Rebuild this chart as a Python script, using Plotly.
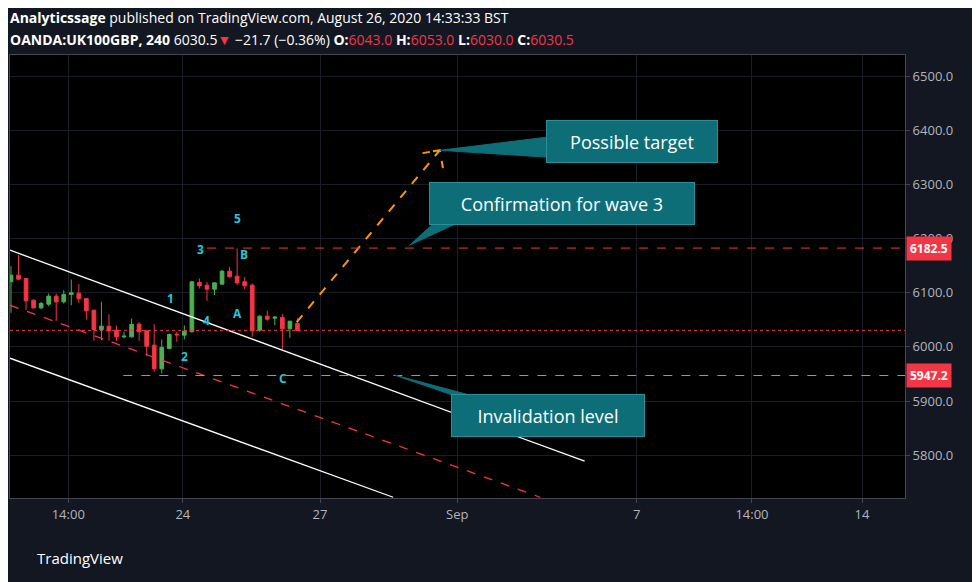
import plotly.graph_objects as go

# 4h bars, index positions on the x axis
opens = [6120.2, 6132.5, 6126.3, 6086.3, 6072.1, 6078.9, 6093.7, 6083.2, 6096.8, 6099.2,
         6089.4, 6067.8, 6032.1, 6038.3, 6030.9, 6018.6, 6018.6, 6042.0, 6029.7, 6003.2,
         5959.5, 5997.0, 6023.5, 6021.7, 6027.8, 6118.9, 6114.0, 6106.6, 6115.9, 6139.9,
         6130.6, 6120.2, 6114.0, 6030.9, 6056.7, 6053.1, 6054.3, 6033.4, 6043.0]
highs = [6149.1, 6169.4, 6126.3, 6087.5, 6083.2, 6098.6, 6098.6, 6104.8, 6124.5, 6115.9,
         6089.4, 6067.8, 6083.2, 6060.4, 6039.5, 6027.8, 6052.4, 6045.7, 6029.7, 6042.0,
         6013.7, 6024.7, 6027.8, 6039.5, 6122.0, 6126.3, 6120.2, 6118.3, 6141.7, 6147.9,
         6181.7, 6129.4, 6117.1, 6058.6, 6066.6, 6056.7, 6060.4, 6047.5, 6053.0]
lows = [6062.9, 6123.2, 6067.8, 6070.9, 6069.1, 6075.2, 6048.1, 6080.1, 6077.1, 6081.4,
        6050.6, 6011.2, 6012.4, 6011.2, 6011.2, 6015.5, 6017.3, 6011.2, 5982.9, 5953.9,
        5950.8, 5995.8, 6009.3, 6013.7, 6027.2, 6107.9, 6085.1, 6095.5, 6115.9, 6128.2,
        6114.0, 6106.0, 6018.6, 6027.8, 6048.1, 6040.1, 5995.2, 6016.7, 6030.0]
closes = [6132.5, 6125.1, 6085.1, 6072.1, 6080.1, 6093.7, 6083.2, 6096.8, 6099.8, 6088.8,
          6066.6, 6032.1, 6038.3, 6029.7, 6018.6, 6019.8, 6041.4, 6027.8, 6001.3, 5959.5,
          5998.9, 6022.9, 6022.3, 6029.0, 6120.2, 6112.8, 6106.6, 6118.3, 6139.9, 6129.4,
          6118.3, 6112.8, 6029.7, 6056.7, 6051.2, 6054.9, 6033.4, 6047.5, 6030.5]
bars = list(range(len(opens)))

tick_pos = [7.6, 22.8, 41.0, 59.2, 83.0, 98.3, 112.9]
tick_text = ["14:00", "24", "27", "Sep", "7", "14:00", "14"]
price_ticks = [5800, 5900, 6000, 6100, 6200, 6300, 6400, 6500]

upper_ch = ([-0.13, 76.1], [6178.6, 5788.9])
lower_ch = ([-0.13, 50.7], [5979.1, 5722.4])
mid_ch = ([-0.13, 70.2], [6077.0, 5722.4])
path_x = [37.9, 56.9, 54.6, 56.9, 57.3]
path_y = [6045.6, 6363.3, 6357.8, 6363.3, 6330.0]
confirm_level = 6182.5
invalid_level = 5947.2
last_price = 6030.5

waves = [("1", 21.1, 6090), ("2", 23.0, 5983), ("3", 25.1, 6180), ("4", 26.0, 6048),
         ("5", 30.0, 6238), ("A", 30.0, 6062), ("B", 30.9, 6170), ("C", 36.1, 5942)]

# callouts: text, centre x, centre y, box width px
callouts = [("Possible target", 82.4, 6380, 172), ("Confirmation for wave 3", 73.1, 6265, 266),
            ("Invalidation level", 71.2, 5874, 194)]

XR = [-0.13, 118.6]
YR = [5721, 6539]
BG = "#131722"
RED = "#f23645"
GREEN = "#4caf50"
TEAL = "#0e6e78"

fig = go.Figure()
fig.add_trace(go.Candlestick(
    x=bars, open=opens, high=highs, low=lows, close=closes,
    increasing=dict(line=dict(color=GREEN, width=1), fillcolor=GREEN),
    decreasing=dict(line=dict(color=RED, width=1), fillcolor=RED),
    whiskerwidth=0, showlegend=False, hoverinfo="skip"))

for (xs, ys), dash, col in [(upper_ch, "solid", "white"), (lower_ch, "solid", "white"),
                            (mid_ch, "dash", RED)]:
    fig.add_trace(go.Scatter(x=xs, y=ys, mode="lines", showlegend=False,
                             line=dict(color=col, width=1.3, dash=dash), hoverinfo="skip"))

fig.add_trace(go.Scatter(x=path_x, y=path_y, mode="lines", showlegend=False,
                         line=dict(color="#ff9800", width=2, dash="dash"), hoverinfo="skip"))

shapes = [
    dict(type="line", x0=26.0, x1=XR[1], y0=confirm_level, y1=confirm_level,
         line=dict(color=RED, width=1, dash="dash")),
    dict(type="line", x0=14.9, x1=XR[1], y0=invalid_level, y1=invalid_level,
         line=dict(color="#9598a1", width=1, dash="dash")),
    dict(type="line", x0=XR[0], x1=XR[1], y0=last_price, y1=last_price,
         line=dict(color=RED, width=1, dash="dot")),
    # callout pointers
    dict(type="path", path="M 56.9 6363 L 71.5 6388 L 71.5 6350 Z",
         fillcolor=TEAL, line=dict(color=TEAL, width=1)),
    dict(type="path", path="M 52.9 6188 L 57.0 6240 L 61.0 6240 Z",
         fillcolor=TEAL, line=dict(color=TEAL, width=1)),
    dict(type="path", path="M 50.9 5948 L 59.8 5905 L 62.5 5905 Z",
         fillcolor=TEAL, line=dict(color=TEAL, width=1)),
]

ann = []
for t, x, y in waves:
    ann.append(dict(x=x, y=y, text=f"<b>{t}</b>", showarrow=False, xref="x", yref="y",
                    font=dict(family="Open Sans", size=12, color="#26c6da")))
for t, x, y, w in callouts:
    ann.append(dict(x=x, y=y, text=t, showarrow=False, xref="x", yref="y",
                    width=w - 4, height=39, align="center", valign="middle",
                    bgcolor=TEAL, bordercolor="#2a8f98", borderwidth=1, borderpad=1,
                    font=dict(family="Open Sans", size=18, color="white")))
for lvl in [confirm_level, invalid_level]:
    ann.append(dict(x=1.0, y=lvl, xref="paper", yref="y", xanchor="left", showarrow=False,
                    text=f"<b>{lvl:.1f}</b>", bgcolor=RED, borderpad=3, xshift=1,
                    font=dict(family="Open Sans", size=12, color="white")))
hdr = dict(xref="paper", yref="paper", xanchor="left", yanchor="middle", showarrow=False,
           font=dict(family="Open Sans", size=14, color="white"))
ann.append(dict(hdr, x=-0.002, y=1.085,
                text="<b>Analyticssage</b> published on TradingView.com, August 26, 2020 14:33:33 BST"))
ann.append(dict(hdr, x=-0.002, y=1.036,
                text=("<b>OANDA:UK100GBP, 240</b> 6030.5<span style='color:#f23645'>▼</span>"
                      " −21.7 (−0.36%) <b>O:</b><span style='color:#f23645'>6043.0</span>"
                      " <b>H:</b><span style='color:#f23645'>6053.0</span>"
                      " <b>L:</b><span style='color:#f23645'>6030.0</span>"
                      " <b>C:</b><span style='color:#f23645'>6030.5</span>")))
ann.append(dict(hdr, x=0.028, y=-0.136, text="TradingView",
                font=dict(family="Open Sans", size=15, color="white")))

# page body adds an 8px offset, so the figure is sized to fit the window
fig.update_layout(
    width=972, height=574, paper_bgcolor=BG, plot_bgcolor="black",
    margin=dict(l=2, r=75, t=47, b=84, autoexpand=False),
    shapes=shapes, annotations=ann,
    xaxis=dict(range=XR, tickvals=tick_pos, ticktext=tick_text, rangeslider=dict(visible=False),
               showgrid=True, gridcolor="#1a1d26", zeroline=False, showline=True, automargin=False,
               linecolor="#434651", mirror=True, ticks="outside", ticklen=4, tickcolor="#434651",
               tickfont=dict(family="Open Sans", size=13, color="#b2b5be")),
    yaxis=dict(range=YR, side="right", tickvals=price_ticks, automargin=False,
               ticktext=[f"{v:.1f}" for v in price_ticks], showgrid=True, gridcolor="#1a1d26",
               zeroline=False, showline=True, linecolor="#434651", mirror=True,
               ticks="outside", ticklen=4, tickcolor="#434651",
               tickfont=dict(family="Open Sans", size=13, color="#b2b5be")),
)

fig.write_html("out.html")
